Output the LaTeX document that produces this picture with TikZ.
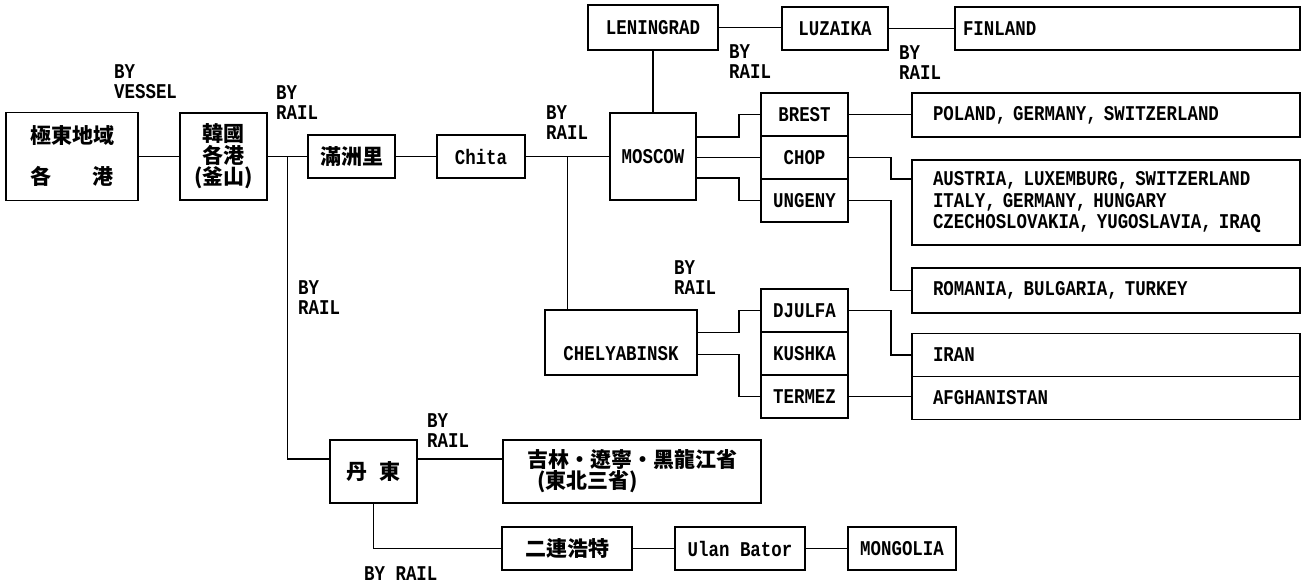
\documentclass[tikz,border=0pt]{standalone}
\usepackage{fontspec}
\setmainfont{Liberation Mono}[FakeStretch=0.83]
\newfontfamily\cjk{Noto Sans CJK KR}
\usetikzlibrary{calc}

\begin{document}
\begin{tikzpicture}[x=1pt,y=-1pt,
    box/.style={draw, line width=1.7pt, inner sep=0pt, align=center},
    country/.style={box, align=left, inner xsep=21pt, text width=346pt},
    wire/.style={line width=1.4pt},
    rail/.style={align=left, inner sep=0pt, anchor=west},
    hanja/.style={font=\cjk\fontsize{21}{21}\selectfont}]
            \useasboundingbox (0,0) rectangle (1305,583);
            {\fontsize{21}{20}\selectfont\bfseries

            % Drawing box east (far east ports)
            \node [box, hanja, minimum width=132pt, minimum height=88pt] (east) at (72.000000,156.500000) {極東地域\\[20pt]各\hspace{41pt}港};%

            % Drawing box korea
            \node [box, hanja, minimum width=87pt, minimum height=87pt] (korea) at (223.500000,156.500000) {韓國\\[0.5pt]各港\\[0.5pt](釜山)};%

            % Drawing boxes on the main rail line
            \node [box, hanja, minimum width=87pt, minimum height=43pt] (manchu) at (351.500000,156.500000) {滿洲里};%
            \node [box, minimum width=88pt, minimum height=43pt] (chita) at (481.000000,156.500000) {Chita};%
            \node [box, minimum width=86pt, minimum height=87pt] (moscow) at (653.000000,156.500000) {MOSCOW};%

            % Drawing boxes of the northern branch
            \node [box, minimum width=130pt, minimum height=45pt] (lenin) at (653.000000,27.500000) {LENINGRAD};%
            \node [box, minimum width=106pt, minimum height=43pt] (luzaika) at (835.000000,28.500000) {LUZAIKA};%
            \node [box, align=left, inner xsep=8pt, text width=329pt, minimum height=43pt] (finland) at (1127.500000,28.500000) {FINLAND};%

            % Drawing border stations of MOSCOW
            \node [box, minimum width=87pt, minimum height=43pt] (brest) at (804.500000,114.500000) {BREST};%
            \node [box, minimum width=87pt, minimum height=43pt] (chop) at (804.500000,157.500000) {CHOP};%
            \node [box, minimum width=87pt, minimum height=43pt] (ungeny) at (804.500000,200.500000) {UNGENY};%

            % Drawing countries of MOSCOW
            \node [country, minimum height=44pt] (poland) at (1106.000000,115.000000) {POLAND, GERMANY, SWITZERLAND};%
            \node [country, minimum height=85pt] (austria) at (1106.000000,202.500000) {AUSTRIA, LUXEMBURG, SWITZERLAND\\[1.5pt]ITALY, GERMANY, HUNGARY\\[1.5pt]CZECHOSLOVAKIA, YUGOSLAVIA, IRAQ};%
            \node [country, minimum height=45pt] (romania) at (1106.000000,290.500000) {ROMANIA, BULGARIA, TURKEY};%

            % Drawing box CHELYABINSK and its stations
            \node [box, minimum width=152pt, minimum height=65pt, text height=40pt, text depth=4pt] (chelya) at (621.000000,342.500000) {CHELYABINSK};%
            \node [box, minimum width=87pt, minimum height=43pt] (djulfa) at (804.500000,310.500000) {DJULFA};%
            \node [box, minimum width=87pt, minimum height=43pt] (kushka) at (804.500000,353.500000) {KUSHKA};%
            \node [box, minimum width=87pt, minimum height=43pt] (termez) at (804.500000,396.500000) {TERMEZ};%
            \node [country, minimum height=43pt] (iran) at (1106.000000,355.000000) {IRAN};%
            \node [country, minimum height=43pt] (afghan) at (1106.000000,398.000000) {AFGHANISTAN};%

            % Drawing boxes of the southern branch
            \node [box, hanja, minimum width=87pt, minimum height=63pt] (dandong) at (373.500000,471.500000) {丹\hspace{12pt}東};%
            \node [box, hanja, align=left, minimum width=258pt, minimum height=63pt, font=\cjk\fontsize{21}{20}\selectfont] (jilin) at (632.000000,471.500000) {吉林・遼寧・黑龍江省\\\hspace*{10pt}(東北三省)};%
            \node [box, hanja, minimum width=130pt, minimum height=43pt] (erlian) at (567.000000,548.500000) {二連浩特};%
            \node [box, minimum width=130pt, minimum height=43pt] (ulan) at (740.000000,548.500000) {Ulan Bator};%
            \node [box, minimum width=108pt, minimum height=43pt] (mongolia) at (902.000000,548.500000) {MONGOLIA};%

            % Drawing line east korea manchu
            \draw [wire] (east.east) -- (korea.west);%
            \draw [wire] (korea.east) -- (manchu.west);%
            \coordinate (j1) at ($(korea.east)!.5!(manchu.west)$);%

            % Drawing line to dandong
            \coordinate (dd) at ([yshift=-20pt]dandong.north west);%
            \draw [wire] (j1) |- (dd);%
            \draw [wire] (dandong.east |- dd) -- (jilin.west |- dd);%
            \draw [wire] (dandong.south) |- (erlian.west);%
            \draw [wire] (erlian.east) -- (ulan.west);%
            \draw [wire] (ulan.east) -- (mongolia.west);%

            % Drawing line manchu chita moscow
            \draw [wire] (manchu.east) -- (chita.west);%
            \draw [wire] (chita.east) -- (moscow.west);%
            \coordinate (j2) at ($(chita.east)!.5!(moscow.west)$);%
            \draw [wire] (j2) -- (j2 |- chelya.north);%

            % Drawing line leningrad finland
            \draw [wire] (lenin.south) -- (moscow.north);%
            \draw [wire] (lenin.east) -- (lenin.east -| luzaika.west);%
            \draw [wire] (luzaika.east) -- (luzaika.east -| finland.west);%

            % Drawing lines moscow stations
            \draw [wire] (moscow.east |- brest.south) -| ($(brest.west)+(-21,0)$) -- (brest.west);%
            \draw [wire] (moscow.east |- chop) -- (chop.west);%
            \draw [wire] (moscow.east |- ungeny.north) -| ($(ungeny.west)+(-21,0)$) -- (ungeny.west);%

            % Drawing lines stations countries
            \draw [wire] (brest.east) -- (brest.east -| poland.west);%
            \draw [wire] (chop.east) -- ++(42,0) |- ($(austria.north west)+(0,20)$);%
            \draw [wire] (ungeny.east) -- ++(42,0) |- (romania.west);%

            % Drawing lines chelyabinsk stations
            \draw [wire] ([yshift=10pt]chelya.east) -| ($(djulfa.west)+(-21,0)$) -- (djulfa.west);%
            \draw [wire] ([yshift=-12pt]chelya.east) -| ($(termez.west)+(-21,0)$) -- (termez.west);%
            \draw [wire] (djulfa.east) -- ++(42,0) |- (iran.west);%
            \draw [wire] (termez.east) -- (termez.east -| afghan.west);%

            % Marking labels
            \node [rail] (vessel) at (114.000000,82.000000) {BY\\VESSEL};%
            \node [rail] (rail1) at (276.000000,103.000000) {BY\\RAIL};%
            \node [rail] (rail2) at (546.000000,123.000000) {BY\\RAIL};%
            \node [rail] (rail3) at (729.000000,62.000000) {BY\\RAIL};%
            \node [rail] (rail4) at (899.000000,63.000000) {BY\\RAIL};%
            \node [rail] (rail5) at (298.000000,298.000000) {BY\\RAIL};%
            \node [rail] (rail6) at (674.000000,278.000000) {BY\\RAIL};%
            \node [rail] (rail7) at (427.000000,431.000000) {BY\\RAIL};%
            \node [rail, anchor=base west] (rail8) at (364.000000,580.000000) {BY RAIL};%
            }
        \end{tikzpicture}
\end{document}
